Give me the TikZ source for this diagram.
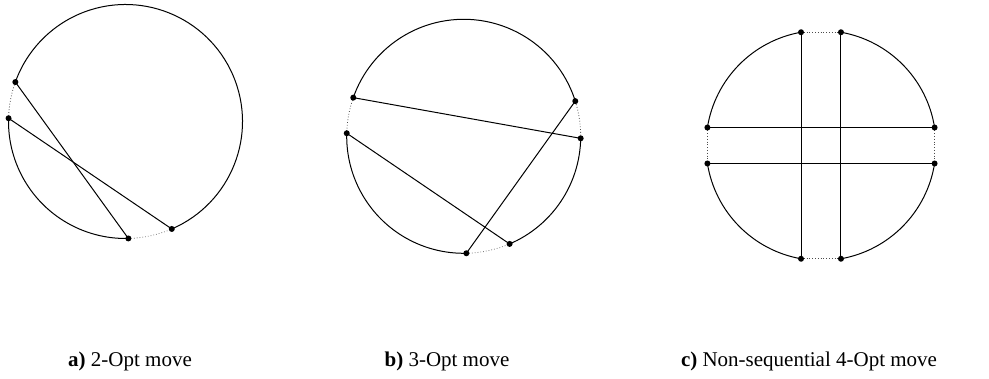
\documentclass[tikz,border=0pt]{standalone}
\usepackage{fontspec}
\setmainfont{Liberation Serif}
\usetikzlibrary{calc}
\tikzset{
  arcline/.style={line width=1pt, black},
  chord/.style={line width=1pt, black},
  gap/.style={line width=0.8pt, gray, dotted},
  darkgap/.style={line width=0.8pt, black!70, dotted},
  dot/.style={circle, fill=black, inner sep=0pt, minimum size=6pt},
  caption/.style={anchor=base, inner sep=0pt, font=\fontsize{21}{25}\selectfont}
}
\begin{document}
\begin{tikzpicture}[x=1pt,y=1pt]
\useasboundingbox (0,0) rectangle (989,378);
% ---------- a) ----------
\coordinate (ca) at (125.5,256.5);
\def\ra{117}
\foreach \n/\a in {a1/160.3, a2/178.4, a3/271.4, a4/293.3}{
  \coordinate (\n) at ($(ca)+(\a:\ra)$);
}
\draw[arcline] (a4) arc[start angle=293.3, end angle=520.3, radius=\ra];
\draw[arcline] (a2) arc[start angle=178.4, end angle=271.4, radius=\ra];
\draw[darkgap] (a1) arc[start angle=160.3, end angle=178.4, radius=\ra];
\draw[gap] (a3) arc[start angle=271.4, end angle=293.3, radius=\ra];
\draw[chord] (a1) -- (a3);
\draw[chord] (a2) -- (a4);
\foreach \n in {a1,a2,a3,a4} \node[dot] at (\n) {};
% ---------- b) ----------
\coordinate (cb) at (463.7,241.7);
\def\rb{117}
\foreach \n/\a in {b1/160.7, b2/178.5, b3/271.3, b4/293.1, b5/17.5, b6/359}{
  \coordinate (\n) at ($(cb)+(\a:\rb)$);
}
\draw[arcline] (b5) arc[start angle=17.5, end angle=160.7, radius=\rb];
\draw[arcline] (b2) arc[start angle=178.5, end angle=271.3, radius=\rb];
\draw[arcline] (b4) arc[start angle=293.1, end angle=359, radius=\rb];
\draw[darkgap] (b1) arc[start angle=160.7, end angle=178.5, radius=\rb];
\draw[gap] (b3) arc[start angle=271.3, end angle=293.1, radius=\rb];
\draw[darkgap] (b6) arc[start angle=359, end angle=377.5, radius=\rb];
\draw[chord] (b1) -- (b6);
\draw[chord] (b2) -- (b4);
\draw[chord] (b3) -- (b5);
\foreach \n in {b1,b2,b3,b4,b5,b6} \node[dot] at (\n) {};
% ---------- c) ----------
\coordinate (cc) at (821,232.5);
\def\rc{115}
\foreach \n/\a in {t1/100, t2/80, l1/171, l2/189, d1/260, d2/280, r1/9, r2/351}{
  \coordinate (\n) at ($(cc)+(\a:\rc)$);
}
\draw[arcline] (r1) arc[start angle=9, end angle=80, radius=\rc];
\draw[arcline] (t1) arc[start angle=100, end angle=171, radius=\rc];
\draw[arcline] (l2) arc[start angle=189, end angle=260, radius=\rc];
\draw[arcline] (d2) arc[start angle=280, end angle=351, radius=\rc];
\draw[darkgap] (t1) -- (t2);
\draw[darkgap] (l1) -- (l2);
\draw[darkgap] (d1) -- (d2);
\draw[darkgap] (r1) -- (r2);
\draw[chord] (t1) -- (d1);
\draw[chord] (t2) -- (d2);
\draw[chord] (l1) -- (r1);
\draw[chord] (l2) -- (r2);
\foreach \n in {t1,t2,l1,l2,d1,d2,r1,r2} \node[dot] at (\n) {};
% ---------- captions ----------
\node[caption] (capa) at (130,12) {\textbf{a)} 2-Opt move};
\node[caption] (capb) at (447,12) {\textbf{b)} 3-Opt move};
\node[caption] (capc) at (809,12) {\textbf{c)} Non-sequential 4-Opt move};
\end{tikzpicture}
\end{document}
